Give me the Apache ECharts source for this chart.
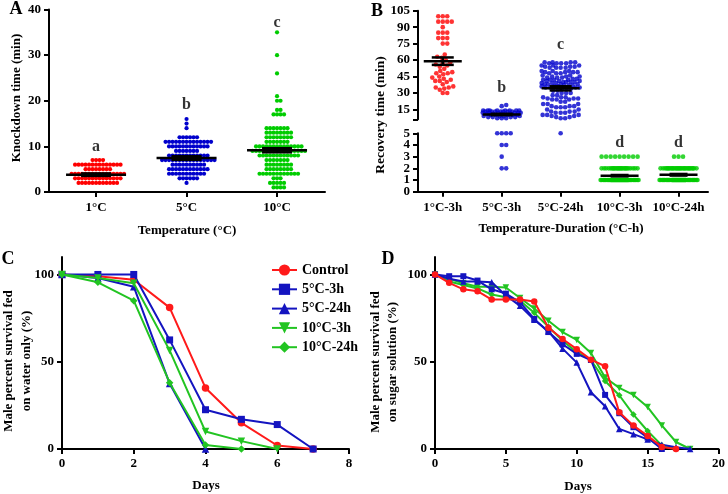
<!DOCTYPE html>
<html><head><meta charset="utf-8">
<script src="https://cdn.jsdelivr.net/npm/echarts@6/dist/echarts.min.js"></script>
<style>html,body{margin:0;padding:0;background:#fff}#c{width:728px;height:494px}</style>
</head><body><div id="c"></div><script>
const FONT = "'Liberation Serif','Times New Roman',serif";
const RED = '#ff0000', BLUE = '#0000cc', GREEN = '#00cc00';
const LRED = '#ff1a1a', LBLUE = '#1414c0', LGREEN = '#22c422';

// ---------- Panel A : knockdown time, [minutes, number of males] ----------
const catsA = ['1°C', '5°C', '10°C'];
const knock1C = [[2,12],[3,14],[4,16],[5,8],[6,14],[7,4]];
const knock5C = [[2,1],[3,6],[4,11],[5,12],[6,10],[7,16],[8,12],[9,7],[10,12],[11,14],[12,6],[14,1],[15,1],[16,1]];
const knock10C = [[1,4],[2,5],[3,3],[4,12],[5,8],[6,8],[7,7],[8,12],[9,16],[10,14],[11,7],[12,8],[13,8],[14,7],[17,4],[18,2],[20,2],[21,1],[26,1],[30,1],[35,1]];
const meanA = [3.8, 7.45, 9.15];
const semA = [0.27, 0.4, 0.45];
const lettersA = ['a', 'b', 'c'];
const letterYA = [10, 19.2, 37];

// ---------- Panel B : recovery time, [minutes, number of males] ----------
const catsB = ['1°C-3h', '5°C-3h', '5°C-24h', '10°C-3h', '10°C-24h'];
const rec1C3h = [[100,3],[95,4],[90,1],[85,3],[80,3],[75,2],[65,1],[63,1],[62,1],[60,1],[58,1],[57,1],[56,1],[55,1],[54,1],[52,1],[50,1],[49,1],[48,2],[47,1],[45,1],[44,1],[43,1],[42,1],[41,2],[40,1],[38,1],[36,1],[35,2],[34,1],[33,1],[30,2]];
const rec5C3h = [[19,1],[18,1],[14,8],[13,7],[12,6],[11,5],[10,5],[9,4],[8,4],[7,3],[5,4],[4,2],[3,1],[2,2]];
const rec5C24h = [[58,4],[57,4],[55,3],[54,3],[53,4],[50,3],[49,4],[48,3],[46,2],[45,3],[44,3],[43,2],[42,4],[41,3],[40,4],[39,3],[38,4],[37,3],[36,3],[35,4],[34,3],[32,2],[30,3],[28,2],[26,3],[25,3],[24,3],[22,2],[20,3],[18,3],[17,3],[15,2],[13,3],[12,3],[10,3],[9,2],[8,2],[7,2],[5,1]];
const rec10C3h = [[1,55],[2,25],[3,9]];
const rec10C24h = [[1,50],[2,30],[3,3]];
const meanB = [59, 10.4, 34.2, 1.37, 1.45];
const semB = [3.4, 0.6, 1.9, 0.06, 0.07];
const lettersB = ['a', 'b', 'c', 'd', 'd'];
const letterYB = [106, 35, 74, 4.15, 4.15];

// ---------- Panels C and D : survival (%) by day ----------
const seriesNames = ['Control', '5°C-3h', '5°C-24h', '10°C-3h', '10°C-24h'];
const waterControl = [100, 99, 97, 81, 35, 15, 2, 0];
const water5C3h    = [100, 100, 100, 62.5, 22.5, 17, 14, 0];
const water5C24h   = [100, 98, 93, 37.5, 0];
const water10C3h   = [100, 98, 95, 56.5, 10, 4.5, 0];
const water10C24h  = [100, 95.5, 85, 38, 2.3, 0];
const sugarControl = [100, 95.2, 91.5, 90.4, 85.6, 85.6, 85.6, 84.5, 69.5, 63, 57.2, 51.2, 47.4, 21, 13.4, 7.5, 1.2, 0];
const sugar5C3h    = [100, 99, 99, 96.5, 91.5, 89, 84, 74.5, 67, 60, 54.5, 51, 31, 20.5, 12.5, 6.5, 0];
const sugar5C24h   = [100, 97.5, 96, 96, 95.5, 88, 82, 74, 67.5, 57.5, 49.5, 32.5, 24.5, 11.5, 8.5, 5.5, 2.5, 1, 0];
const sugar10C3h   = [100, 97.5, 95, 93, 93, 92.5, 86.5, 80.5, 73.5, 67, 62.5, 55, 41, 35, 31, 24, 13.5, 4, 0];
const sugar10C24h  = [100, 96, 94, 92, 88.5, 87, 85, 78, 70, 62, 55.5, 51, 39, 30.8, 19.7, 10.3, 2.1, 0];

// ---------- layout ----------
const G = [
  {left: 49, top: 9.5, width: 276, height: 182.5},
  {left: 418, top: 10.7, width: 290, height: 108.6},
  {left: 418, top: 133.3, width: 290, height: 58.4},
  {left: 62, top: 257, width: 287, height: 192},
  {left: 435, top: 257, width: 286, height: 192}
];
const xA = [-0.52, 2.53], yA = [0, 40];
const xB = [-0.42, 4.5], yBt = [6, 105], yBb = [0, 5];

const expand = f => f.flatMap(([v, n]) => Array(n).fill(v));

function swarm(vals, pxY, W, d) {
  const order = vals.map((v, i) => i).sort((a, b) => vals[a] - vals[b]);
  const cands = [0];
  for (let k = 0.5; k <= W + 1e-9; k += 0.5) { cands.push(k); cands.push(-k); }
  const placed = [], out = new Array(vals.length);
  for (const i of order) {
    const y = vals[i] * pxY;
    let best = 0, bestScore = -1;
    for (const c of cands) {
      let m = Infinity;
      for (const p of placed) {
        const dy = y - p.y;
        if (Math.abs(dy) < d) { const dist = Math.hypot(c - p.x, dy); if (dist < m) m = dist; }
      }
      if (m >= d) { best = c; break; }
      if (m > bestScore + 1e-6) { bestScore = m; best = c; }
    }
    placed.push({x: best, y}); out[i] = best;
  }
  return out;
}
function swarmData(freq, idx, pxX, pxY, W, d, keep) {
  const vals = expand(freq).filter(keep);
  const off = swarm(vals, pxY, W, d);
  return vals.map((v, i) => [idx + off[i] / pxX, v]);
}

const pxXA = G[0].width / (xA[1] - xA[0]), pxYA = G[0].height / (yA[1] - yA[0]);
const pxXB = G[1].width / (xB[1] - xB[0]);
const pxYBt = G[1].height / (yBt[1] - yBt[0]), pxYBb = G[2].height / (yBb[1] - yBb[0]);

const lineSt = {color: '#000', width: 2};
const lbl = {color: '#000', fontFamily: FONT, fontWeight: 'bold', fontSize: 13, showMinLabel: true, showMaxLabel: true, hideOverlap: false};
function axis(grid, min, max, extra) {
  return Object.assign({type: 'value', gridIndex: grid, min, max, splitLine: {show: false},
    axisLine: {show: true, onZero: false, lineStyle: lineSt},
    axisTick: {show: true, length: 5, lineStyle: lineSt},
    axisLabel: Object.assign({margin: 8}, lbl)}, extra || {});
}
function custom(vals, margin, fmt, more) {
  return {
    axisTick: {show: true, length: 5, lineStyle: lineSt, customValues: vals.ticks || vals},
    axisLabel: Object.assign({margin: margin, customValues: vals.labels || vals}, lbl, fmt ? {formatter: fmt} : {}, more || {})
  };
}

function meanSem(halfLine, halfCap) {
  return function (params, api) {
    const x = api.value(0), m = api.value(1), s = api.value(2);
    const c = api.coord([x, m]), t = api.coord([x, m + s]), b = api.coord([x, m - s]);
    const st = {stroke: '#000', lineWidth: 2.5};
    return {type: 'group', children: [
      {type: 'line', shape: {x1: c[0] - halfLine, y1: c[1], x2: c[0] + halfLine, y2: c[1]}, style: st},
      {type: 'line', shape: {x1: c[0], y1: t[1], x2: c[0], y2: b[1]}, style: st},
      {type: 'line', shape: {x1: c[0] - halfCap, y1: t[1], x2: c[0] + halfCap, y2: t[1]}, style: st},
      {type: 'line', shape: {x1: c[0] - halfCap, y1: b[1], x2: c[0] + halfCap, y2: b[1]}, style: st}
    ]};
  };
}
function letterSeries(xi, yi, items) {
  return {type: 'scatter', xAxisIndex: xi, yAxisIndex: yi, symbolSize: 0.1, silent: true, z: 10,
    itemStyle: {color: 'transparent'},
    data: items.map(it => ({value: [it[0], it[1]], name: it[2]})),
    label: {show: true, position: 'inside', formatter: p => p.name, color: '#000',
      fontFamily: FONT, fontWeight: 'bold', fontSize: 16}};
}

const series = [];
// Panel A dots
[knock1C, knock5C, knock10C].forEach((f, i) => {
  series.push({type: 'scatter', xAxisIndex: 0, yAxisIndex: 0, symbolSize: 4.2, silent: true,
    itemStyle: {color: [RED, BLUE, GREEN][i], opacity: 1},
    data: swarmData(f, i, pxXA, pxYA, 29, 3.3, () => true)});
});
series.push({type: 'custom', xAxisIndex: 0, yAxisIndex: 0, z: 5, renderItem: meanSem(30, 15),
  data: meanA.map((m, i) => [i, m, semA[i]])});
series.push(letterSeries(0, 0, lettersA.map((l, i) => [i, letterYA[i], l])));

// Panel B dots (broken axis: upper part >= 6, lower part <= 5)
const recB = [rec1C3h, rec5C3h, rec5C24h, rec10C3h, rec10C24h];
const colB = [RED, BLUE, BLUE, GREEN, GREEN];
recB.forEach((f, i) => {
  series.push({type: 'scatter', xAxisIndex: 1, yAxisIndex: 1, symbolSize: 4.6, silent: true,
    itemStyle: {color: colB[i]}, data: swarmData(f, i, pxXB, pxYBt, 19, 4.4, v => v >= 5.5)});
  series.push({type: 'scatter', xAxisIndex: 2, yAxisIndex: 2, symbolSize: 4.6, silent: true,
    itemStyle: {color: colB[i]}, data: swarmData(f, i, pxXB, pxYBb, 19, 4.4, v => v < 5.5)});
});
series.push({type: 'custom', xAxisIndex: 1, yAxisIndex: 1, z: 5, renderItem: meanSem(19, 11),
  data: meanB.map((m, i) => [i, m, semB[i]]).filter(d => d[1] >= 5.5)});
series.push({type: 'custom', xAxisIndex: 2, yAxisIndex: 2, z: 5, renderItem: meanSem(19, 9),
  data: meanB.map((m, i) => [i, m, semB[i]]).filter(d => d[1] < 5.5)});
series.push(letterSeries(1, 1, lettersB.map((l, i) => [i, letterYB[i], l]).filter(d => d[1] > 5.5)));
series.push(letterSeries(2, 2, lettersB.map((l, i) => [i, letterYB[i], l]).filter(d => d[1] <= 5.5)));

// Panels C and D lines
const styles = [
  {color: LRED, symbol: 'circle', rot: 0},
  {color: LBLUE, symbol: 'rect', rot: 0},
  {color: LBLUE, symbol: 'triangle', rot: 0},
  {color: LGREEN, symbol: 'triangle', rot: 180},
  {color: LGREEN, symbol: 'diamond', rot: 0}
];
const water = [waterControl, water5C3h, water5C24h, water10C3h, water10C24h];
const sugar = [sugarControl, sugar5C3h, sugar5C24h, sugar10C3h, sugar10C24h];
[[water, 3, 7.5], [sugar, 4, 6.5]].forEach(([sets, ax, sz]) => {
  sets.forEach((vals, k) => {
    const s = styles[k];
    series.push({type: 'line', name: seriesNames[k], xAxisIndex: ax, yAxisIndex: ax,
      symbol: s.symbol, symbolRotate: s.rot, symbolSize: s.symbol === 'rect' ? sz - 0.5 : sz,
      showAllSymbol: true, silent: true, z: 3 + (ax === 4 ? 5 - k : k),
      itemStyle: {color: s.color}, lineStyle: {color: s.color, width: 2},
      data: vals.map((v, d) => [d, v])});
  });
});

const txt = (x, y, text, size, rot) => ({type: 'text', x, y, rotation: rot || 0, silent: true,
  style: {text, fill: '#000', font: `bold ${size}px ${FONT}`, textAlign: 'center', textVerticalAlign: 'middle'}});

const ticksBb = [0, 1, 2, 3, 4, 5];
const option = {
  animation: false,
  backgroundColor: '#fff',
  grid: G.map(g => Object.assign({containLabel: false}, g)),
  legend: {data: seriesNames, orient: 'vertical', left: 266, top: 258, itemWidth: 25, itemHeight: 14,
    itemGap: 5.3, textStyle: {color: '#000', fontFamily: FONT, fontWeight: 'bold', fontSize: 14}},
  xAxis: [
    axis(0, xA[0], xA[1], custom([0, 1, 2], 9, v => catsA[Math.round(v)])),
    axis(1, xB[0], xB[1], {show: false}),
    axis(2, xB[0], xB[1], custom([0, 1, 2, 3, 4], 9, v => catsB[Math.round(v)])),
    axis(3, 0, 8, custom([0, 2, 4, 6, 8], 8)),
    axis(4, 0, 20, custom([0, 5, 10, 15, 20], 8))
  ],
  yAxis: [
    axis(0, yA[0], yA[1], custom([0, 10, 20, 30, 40], 8)),
    axis(1, yBt[0], yBt[1], custom({ticks: [6, 15, 30, 45, 60, 75, 90, 105], labels: [15, 30, 45, 60, 75, 90, 105]}, 8)),
    // lower segment of the broken axis: line + ticks + even labels
    axis(2, yBb[0], yBb[1], custom({ticks: ticksBb, labels: ticksBb.filter(v => v % 2 === 0)}, 8)),
    axis(3, 0, 110, custom([0, 50, 100], 8)),
    axis(4, 0, 110, custom([0, 50, 100], 8)),
    // odd labels of the lower segment (same position, no line)
    axis(2, yBb[0], yBb[1], {position: 'left', offset: 0, axisLine: {show: false}, axisTick: {show: false},
      axisLabel: Object.assign({margin: 8, customValues: ticksBb.filter(v => v % 2 === 1)}, lbl)})
  ],
  series,
  graphic: [
    txt(16, 9, 'A', 18), txt(377, 11, 'B', 18), txt(8, 259, 'C', 18), txt(388, 259, 'D', 18),
    txt(17, 98, 'Knockdown time (min)', 13, Math.PI / 2),
    txt(187, 231, 'Temperature (°C)', 13),
    txt(381, 115, 'Recovery time (min)', 13.5, Math.PI / 2),
    txt(561, 229, 'Temperature-Duration (°C-h)', 13),
    txt(9, 361, 'Male percent survival fed', 13, Math.PI / 2),
    txt(27, 361, 'on water only (%)', 13, Math.PI / 2),
    txt(206, 486, 'Days', 13),
    txt(376, 362, 'Male percent survival fed', 13, Math.PI / 2),
    txt(393, 362, 'on sugar solution (%)', 13, Math.PI / 2),
    txt(578, 487, 'Days', 13)
  ]
};
const chart = echarts.init(document.getElementById('c'));
chart.setOption(option);
</script></body></html>
